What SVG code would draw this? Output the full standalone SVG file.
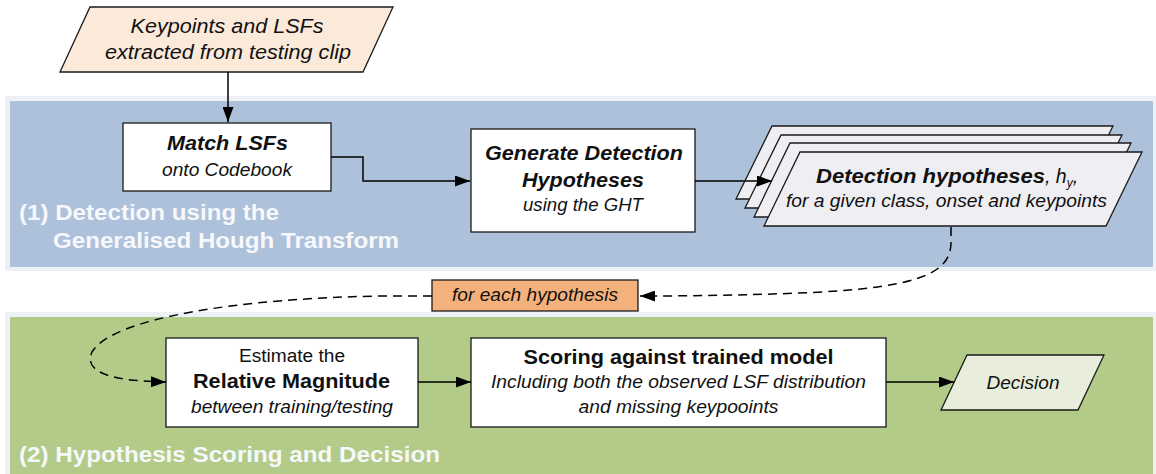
<svg xmlns="http://www.w3.org/2000/svg" width="1156" height="474" viewBox="0 0 1156 474">
<defs>
<style>
.t{font-family:"Liberation Sans",Arial,Helvetica,sans-serif;fill:#111;text-anchor:middle}
.r{font-size:18px}
.i{font-size:18px;font-style:italic}
.b{font-size:20px;font-weight:bold}
.bi{font-size:20px;font-weight:bold;font-style:italic}
.sec{font-family:"Liberation Sans",Arial,Helvetica,sans-serif;font-size:21.5px;font-weight:bold;fill:#f6f8fb}
.box{fill:#fff;stroke:#1a1a1a;stroke-width:1.3}
.stk{fill:#efeef3;stroke:#1a1a1a;stroke-width:1.3}
.edge{fill:none;stroke:#000;stroke-width:1.5}
.dash{stroke-dasharray:9 6}
.outer{fill:#edf1f6}
</style>
<marker id="ah" viewBox="0 0 15 11" refX="15" refY="5.5" markerWidth="15" markerHeight="11" markerUnits="userSpaceOnUse" orient="auto">
<path d="M0,0 L15,5.5 L0,11 z" fill="#000"/>
</marker>
</defs>

<g id="panel-detection">
<rect class="outer" x="5" y="96" width="1151" height="175"/>
<rect x="10" y="101" width="1143" height="166" fill="#adc1da"/>
<text class="sec" x="19" y="220" textLength="260" lengthAdjust="spacingAndGlyphs">(1) Detection using the</text>
<text class="sec" x="53" y="248" textLength="346" lengthAdjust="spacingAndGlyphs">Generalised Hough Transform</text>
</g>

<g id="panel-scoring">
<rect class="outer" x="5" y="312" width="1151" height="170"/>
<rect x="10" y="317" width="1143" height="165" fill="#b3cb88"/>
<text class="sec" x="19" y="462" textLength="421" lengthAdjust="spacingAndGlyphs">(2) Hypothesis Scoring and Decision</text>
</g>

<g id="node-input">
<polygon points="90,7 393,7 363,72 60,72" fill="#fbe9da" stroke="#1a1a1a" stroke-width="1.3"/>
<text class="t i" x="227" y="33" style="font-size:19.5px" textLength="193" lengthAdjust="spacingAndGlyphs">Keypoints and LSFs</text>
<text class="t i" x="228" y="59" style="font-size:19.5px" textLength="246" lengthAdjust="spacingAndGlyphs">extracted from testing clip</text>
</g>

<g id="node-match">
<rect class="box" x="123" y="123" width="208" height="68"/>
<text class="t bi" x="227.5" y="150" textLength="121" lengthAdjust="spacingAndGlyphs">Match LSFs</text>
<text class="t i" x="227" y="176" textLength="130" lengthAdjust="spacingAndGlyphs">onto Codebook</text>
</g>

<g id="node-generate">
<rect class="box" x="471" y="129" width="224" height="103"/>
<text class="t bi" x="584" y="160" textLength="198" lengthAdjust="spacingAndGlyphs">Generate Detection</text>
<text class="t bi" x="583" y="187" textLength="122" lengthAdjust="spacingAndGlyphs">Hypotheses</text>
<text class="t i" x="583" y="211" textLength="120" lengthAdjust="spacingAndGlyphs">using the GHT</text>
</g>

<g id="node-hypotheses">
<polygon class="stk" points="772,126 1113,126 1077,199 736,199"/>
<polygon class="stk" points="781,135 1122,135 1086,208 745,208"/>
<polygon class="stk" points="790,143 1131,143 1095,217 754,217"/>
<polygon class="stk" points="800,152 1142,152 1106,226 764,226"/>
<text class="t" x="816" y="183" style="text-anchor:start;font-size:21px;font-weight:bold;font-style:italic" textLength="229" lengthAdjust="spacingAndGlyphs">Detection hypotheses</text>
<text class="t" x="1045" y="183" style="text-anchor:start;font-size:19.5px;font-style:italic">, h<tspan dy="4" style="font-size:12px">y</tspan><tspan dy="-4">,</tspan></text>
<text class="t i" x="946.5" y="207" textLength="321" lengthAdjust="spacingAndGlyphs">for a given class, onset and keypoints</text>
</g>

<g id="node-foreach">
<rect x="432" y="280" width="206" height="31" fill="#f5b17c" stroke="#1a1a1a" stroke-width="1.3"/>
<text class="t i" x="535" y="301" textLength="166" lengthAdjust="spacingAndGlyphs">for each hypothesis</text>
</g>

<g id="node-estimate">
<rect class="box" x="166" y="338" width="252" height="89"/>
<text class="t r" x="292" y="362" textLength="106" lengthAdjust="spacingAndGlyphs">Estimate the</text>
<text class="t b" x="291.5" y="388" textLength="197" lengthAdjust="spacingAndGlyphs">Relative Magnitude</text>
<text class="t i" x="292" y="413" textLength="202" lengthAdjust="spacingAndGlyphs">between training/testing</text>
</g>

<g id="node-scoring">
<rect class="box" x="471" y="338" width="415" height="89"/>
<text class="t b" x="678.5" y="364" textLength="310" lengthAdjust="spacingAndGlyphs">Scoring against trained model</text>
<text class="t i" x="678.5" y="388" textLength="375" lengthAdjust="spacingAndGlyphs">Including both the observed LSF distribution</text>
<text class="t i" x="678.5" y="413" textLength="200" lengthAdjust="spacingAndGlyphs">and missing keypooints</text>
</g>

<g id="node-decision">
<polygon points="967,355 1104,355 1078,410 941,410" fill="#e8eedb" stroke="#1a1a1a" stroke-width="1.3"/>
<text class="t i" x="1023" y="389" textLength="73" lengthAdjust="spacingAndGlyphs">Decision</text>
</g>

<g id="connectors">
<path class="edge" d="M228,72 L228,122" marker-end="url(#ah)"/>
<path class="edge" d="M331,157 L363,157 L363,181 L470,181" marker-end="url(#ah)"/>
<path class="edge" d="M695,181 L772,181" marker-end="url(#ah)"/>
<path class="edge dash" d="M951,227 L951,242 C951,272 922,286 822,292 C760,295 700,296 640,296" marker-end="url(#ah)"/>
<path class="edge dash" d="M432,296 L384,296 C240,298 112,318 92,352 C84,370 104,381 166,382" marker-end="url(#ah)"/>
<path class="edge" d="M418,382 L471,382" marker-end="url(#ah)"/>
<path class="edge" d="M886,382 L954,382" marker-end="url(#ah)"/>
</g>
</svg>
